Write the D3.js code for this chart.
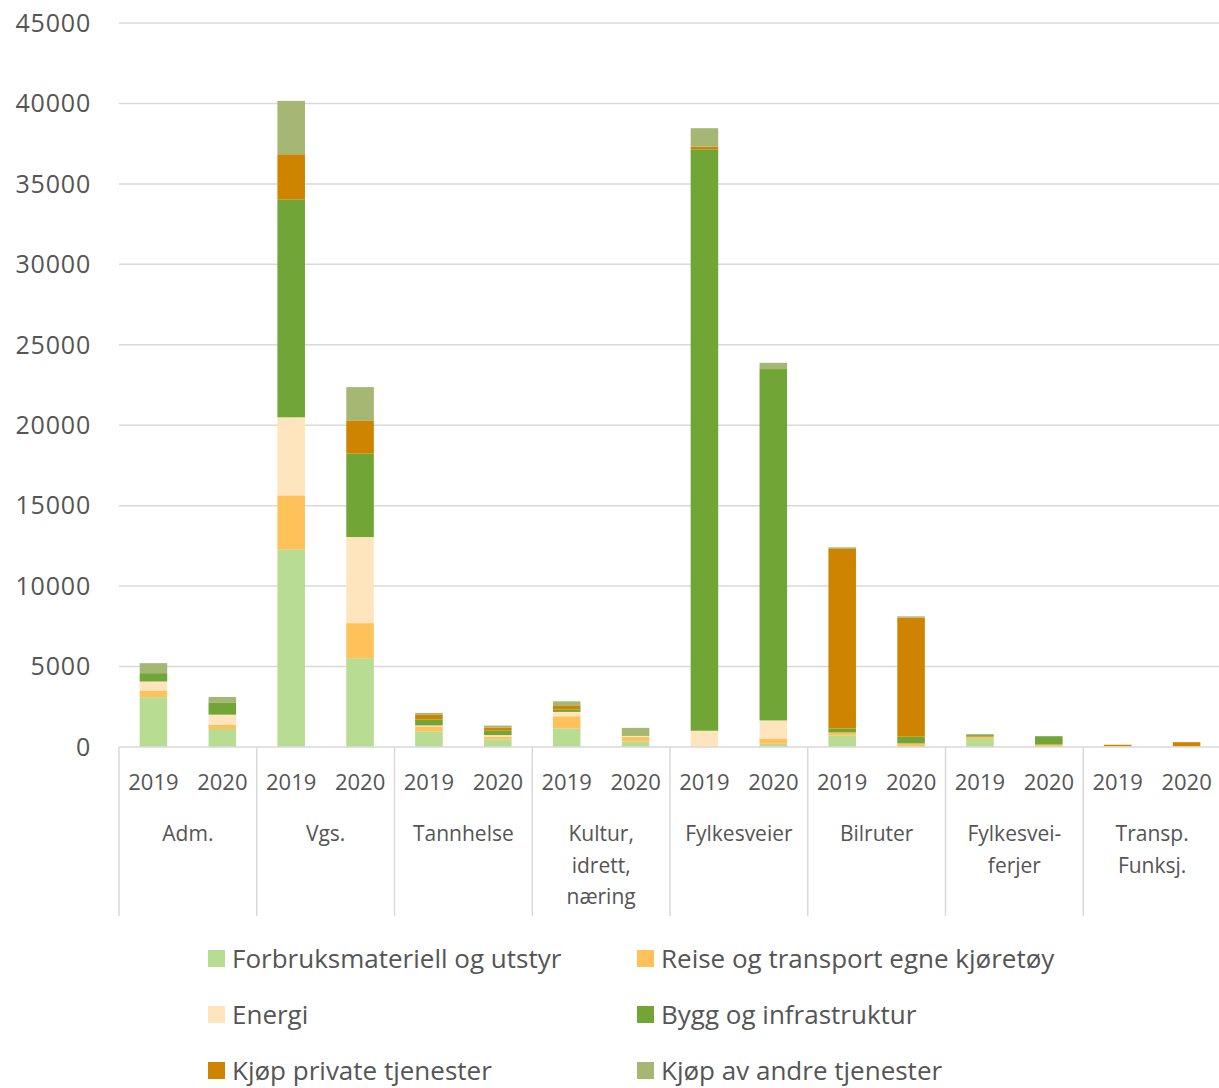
<!DOCTYPE html>
<html>
<head>
<meta charset="utf-8">
<script src="https://cdn.jsdelivr.net/npm/d3@7"></script>
<style>
  body { margin: 0; background: #fff; }
  text { font-family: "Open Sans", sans-serif; fill: #555; }
</style>
</head>
<body>
<div id="chart"></div>
<script>
// categories and years along the x axis
var categories = ["Adm.", "Vgs.", "Tannhelse", "Kultur,\nidrett,\nnæring", "Fylkesveier", "Bilruter", "Fylkesvei-\nferjer", "Transp.\nFunksj."];
var years = ["2019", "2020"];

// series, bottom to top, one value per category/year (2019, 2020, 2019, 2020 ...)
var seriesNames = ["Forbruksmateriell og utstyr", "Reise og transport egne kjøretøy", "Energi", "Bygg og infrastruktur", "Kjøp private tjenester", "Kjøp av andre tjenester"];
var forbruk  = [3100, 1120, 12260, 5520, 970, 470, 1160, 350, 0, 200, 700, 0, 500, 0, 0, 0];
var reise    = [410, 270, 3380, 2180, 310, 170, 750, 290, 0, 330, 200, 220, 140, 150, 60, 50];
var energi   = [560, 620, 4850, 5350, 60, 100, 270, 60, 1010, 1120, 0, 0, 0, 0, 0, 0];
var bygg     = [520, 730, 13550, 5180, 370, 270, 140, 40, 36140, 21840, 250, 420, 100, 520, 0, 0];
var privat   = [0, 0, 2800, 2070, 290, 200, 230, 0, 170, 0, 11160, 7400, 0, 0, 80, 250];
var andre    = [620, 370, 3320, 2070, 120, 120, 290, 450, 1140, 390, 100, 80, 60, 0, 0, 0];
var yTicks = [0, 5000, 10000, 15000, 20000, 25000, 30000, 35000, 40000, 45000];

var colors = ["#b7dc92", "#ffc15a", "#ffe5be", "#71a535", "#cf8400", "#a5b773"];

var width = 1219, height = 1088;
var svg = d3.select("#chart").append("svg")
    .attr("width", width)
    .attr("height", height);

// build rows for the stack
var rows = [];
categories.forEach(function(c, ci) {
  years.forEach(function(yr, yi) {
    var i = ci * 2 + yi;
    rows.push({cat: c, year: yr, s0: forbruk[i], s1: reise[i], s2: energi[i], s3: bygg[i], s4: privat[i], s5: andre[i]});
  });
});
var keys = ["s0", "s1", "s2", "s3", "s4", "s5"];
var stacked = d3.stack().keys(keys)(rows);

var plotLeft = 119, plotRight = 1221, plotTop = 23, plotBottom = 747;

var y = d3.scaleLinear().domain([0, 45000]).range([plotBottom, plotTop]);
var x0 = d3.scaleBand().domain(categories).range([plotLeft, plotRight]);
var x1 = d3.scaleBand().domain(years).range([0, x0.bandwidth()]).paddingInner(0.6).paddingOuter(0.3);

// gridlines
svg.append("g").selectAll("line")
  .data(yTicks.filter(function(d) { return d > 0; }))
  .join("line")
    .attr("x1", plotLeft).attr("x2", width)
    .attr("y1", function(d) { return y(d); })
    .attr("y2", function(d) { return y(d); })
    .attr("stroke", "#d9d9d9")
    .attr("stroke-width", 1.5);

// y labels
svg.append("g").selectAll("text")
  .data(yTicks)
  .join("text")
    .attr("x", 91)
    .attr("y", function(d) { return y(d); })
    .attr("dy", "0.35em")
    .attr("text-anchor", "end")
    .style("font-size", "25px")
    .style("letter-spacing", "0.8px")
    .text(function(d) { return d; });

// bars
svg.append("g").selectAll("g")
  .data(stacked)
  .join("g")
    .attr("fill", function(d, i) { return colors[i]; })
  .selectAll("rect")
  .data(function(d) { return d; })
  .join("rect")
    .attr("x", function(d) { return x0(d.data.cat) + x1(d.data.year); })
    .attr("width", x1.bandwidth())
    .attr("y", function(d) { return y(d[1]); })
    .attr("height", function(d) { return y(d[0]) - y(d[1]); });

// x axis line and category separators
svg.append("line")
  .attr("x1", plotLeft).attr("x2", plotRight)
  .attr("y1", plotBottom).attr("y2", plotBottom)
  .attr("stroke", "#d9d9d9").attr("stroke-width", 1.5);

var bounds = categories.map(function(c) { return x0(c); }).concat([plotRight]);
svg.append("g").selectAll("line")
  .data(bounds)
  .join("line")
    .attr("x1", function(d) { return d; }).attr("x2", function(d) { return d; })
    .attr("y1", plotBottom).attr("y2", 916)
    .attr("stroke", "#d9d9d9").attr("stroke-width", 1.5);

// year labels
svg.append("g").selectAll("text")
  .data(rows)
  .join("text")
    .attr("x", function(d) { return x0(d.cat) + x1(d.year) + x1.bandwidth() / 2; })
    .attr("y", 782)
    .attr("dy", "0.35em")
    .attr("text-anchor", "middle")
    .style("font-size", "22px")
    .text(function(d) { return d.year; });

// category labels
var catLabels = svg.append("g").selectAll("text")
  .data(categories)
  .join("text")
    .attr("x", function(d) { return x0(d) + x0.bandwidth() / 2; })
    .attr("y", 834)
    .attr("text-anchor", "middle")
    .style("font-size", "21px");
catLabels.selectAll("tspan")
  .data(function(d) { return d.split("\n"); })
  .join("tspan")
    .attr("x", function() { var p = this.parentNode; return p.getAttribute("x"); })
    .attr("dy", function(d, i) { return i === 0 ? "0.35em" : "1.5em"; })
    .text(function(d) { return d; });

// legend
var legendPos = [[208, 959], [637, 959], [208, 1015], [637, 1015], [208, 1071], [637, 1071]];
var legend = svg.append("g").selectAll("g")
  .data(seriesNames)
  .join("g")
    .attr("transform", function(d, i) { return "translate(" + legendPos[i][0] + "," + legendPos[i][1] + ")"; });
legend.append("rect")
  .attr("x", 0).attr("y", -9)
  .attr("width", 17).attr("height", 17)
  .attr("fill", function(d, i) { return colors[i]; });
legend.append("text")
  .attr("x", 24)
  .attr("dy", "0.35em")
  .style("font-size", "26px")
  .text(function(d) { return d; });
</script>
</body>
</html>
